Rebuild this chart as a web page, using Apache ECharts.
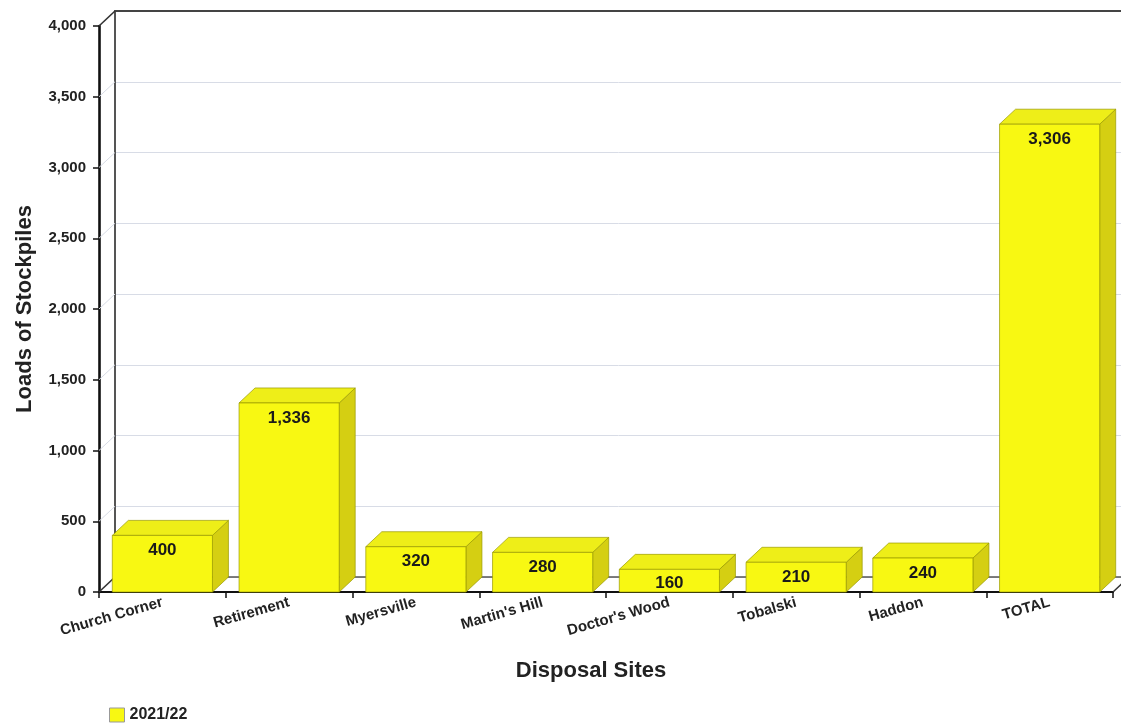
<!DOCTYPE html>
<html><head><meta charset="utf-8">
<script src="https://cdn.jsdelivr.net/npm/echarts@6/dist/echarts.min.js"></script>
<style>html,body{margin:0;padding:0;background:#fff}#c{width:1121px;height:723px}</style>
</head><body><div id="c"></div>
<script>
const categories = ['Church Corner','Retirement','Myersville',"Martin's Hill","Doctor's Wood",'Tobalski','Haddon','TOTAL'];
const values = [400,1336,320,280,160,210,240,3306];
const seriesName = '2021/22';
const yTicks = [0,500,1000,1500,2000,2500,3000,3500,4000];

const DX = 16, DY = 15;
const FONT = '"Liberation Sans", Arial, Helvetica, sans-serif';
const fmt = v => v.toLocaleString('en-US');

const chart = echarts.init(document.getElementById('c'));

function renderBar(params, api) {
  const i = api.value(0), v = api.value(1);
  const top = api.coord([i, v]);
  const base = api.coord([i, 0]);
  const bw = api.size([1, 0])[0] * 0.79;
  const xl = top[0] - bw / 2, xr = top[0] + bw / 2, yt = top[1], yb = base[1];
  const edge = '#9a9a00';
  return {
    type: 'group',
    children: [
      {type: 'polygon', shape: {points: [[xr, yt], [xr + DX, yt - DY], [xr + DX, yb - DY], [xr, yb]]},
        style: {fill: '#D5CF12', stroke: edge, lineWidth: 0.7}},
      {type: 'polygon', shape: {points: [[xl, yt], [xr, yt], [xr + DX, yt - DY], [xl + DX, yt - DY]]},
        style: {fill: '#EEEE18', stroke: edge, lineWidth: 0.7}},
      {type: 'rect', shape: {x: xl, y: yt, width: bw, height: yb - yt},
        style: {fill: '#F8F812', stroke: edge, lineWidth: 0.7}},
      {type: 'text', x: top[0], y: Math.min(yt + 15, yb - 9),
        style: {text: fmt(v), textAlign: 'center', textVerticalAlign: 'middle', align: 'center', verticalAlign: 'middle',
          font: 'bold 17px ' + FONT, fill: '#1a1a1a'}}
    ]
  };
}

function renderFrame(params, api) {
  const v = api.value(1);
  const cs = params.coordSys;
  const y = api.coord([0, v])[1];
  const dark = (v === yTicks[0] || v === yTicks[yTicks.length - 1]);
  const children = [
    {type: 'line', shape: {x1: cs.x, y1: y, x2: cs.x + DX, y2: y - DY},
      style: {stroke: dark ? '#333' : '#d8dce6', lineWidth: dark ? 1.6 : 1}}
  ];
  if (v === yTicks[0]) {
    children.push({type: 'line', shape: {x1: cs.x + cs.width, y1: y, x2: cs.x + cs.width + DX, y2: y - DY},
      style: {stroke: '#333', lineWidth: 1.6}});
  }
  return {type: 'group', children};
}

const option = {
  animation: false,
  backgroundColor: '#fff',
  grid: [
    {left: 99, top: 26, width: 1014, height: 566, containLabel: false, outerBoundsMode: 'none'},
    {left: 99 + DX, top: 26 - DY, width: 1014, height: 566, containLabel: false, outerBoundsMode: 'none'}
  ],
  xAxis: [
    {type: 'category', gridIndex: 0, data: categories,
      axisLine: {lineStyle: {color: '#111', width: 2.2}},
      axisTick: {show: true, length: 6, lineStyle: {color: '#111', width: 1.5}},
      axisLabel: {rotate: 16, margin: 10, interval: 0, color: '#222', fontSize: 15, fontWeight: 'bold', fontFamily: FONT}},
    {type: 'category', gridIndex: 1, data: categories, position: 'bottom',
      axisLine: {lineStyle: {color: '#555', width: 1.6}}, axisTick: {show: false}, axisLabel: {show: false}},
    {type: 'category', gridIndex: 1, data: categories, position: 'top',
      axisLine: {lineStyle: {color: '#444', width: 2}}, axisTick: {show: false}, axisLabel: {show: false}}
  ],
  yAxis: [
    {type: 'value', gridIndex: 0, min: 0, max: 4000, interval: 500,
      name: 'Loads of Stockpiles', nameLocation: 'middle', nameGap: 63,
      nameTextStyle: {fontSize: 22, fontWeight: 'bold', color: '#222', fontFamily: FONT},
      axisLine: {show: true, lineStyle: {color: '#111', width: 2.6}},
      axisTick: {show: true, length: 6, lineStyle: {color: '#111', width: 1.5}},
      axisLabel: {margin: 13, color: '#222', fontSize: 15, fontWeight: 'bold', fontFamily: FONT,
        formatter: v => fmt(v)},
      splitLine: {show: false}},
    {type: 'value', gridIndex: 1, min: 0, max: 4000, interval: 500,
      axisLine: {show: true, lineStyle: {color: '#555', width: 2}},
      axisTick: {show: false}, axisLabel: {show: false},
      splitLine: {show: true, lineStyle: {color: '#d8dce6', width: 1}}}
  ],
  legend: {
    data: [seriesName], left: 104, top: 702, itemWidth: 15, itemHeight: 14, itemGap: 5,
    icon: 'rect',
    itemStyle: {color: '#F8F812', borderColor: '#999', borderWidth: 1},
    textStyle: {fontSize: 16, fontWeight: 'bold', color: '#222', fontFamily: FONT}
  },
  graphic: [
    {type: 'text', x: 591, y: 671,
      style: {text: 'Disposal Sites', textAlign: 'center', textVerticalAlign: 'middle', align: 'center', verticalAlign: 'middle',
        font: 'bold 22px ' + FONT, fill: '#222'}}
  ],
  series: [
    {type: 'custom', xAxisIndex: 0, yAxisIndex: 0, z: 1, silent: true,
      data: yTicks.map(v => [0, v]), renderItem: renderFrame, encode: {x: 0, y: 1}},
    {type: 'custom', name: seriesName, xAxisIndex: 0, yAxisIndex: 0, z: 5,
      itemStyle: {color: '#F8F812'},
      data: values.map((v, i) => [i, v]), renderItem: renderBar, encode: {x: 0, y: 1}}
  ]
};
chart.setOption(option);
</script>
</body></html>
